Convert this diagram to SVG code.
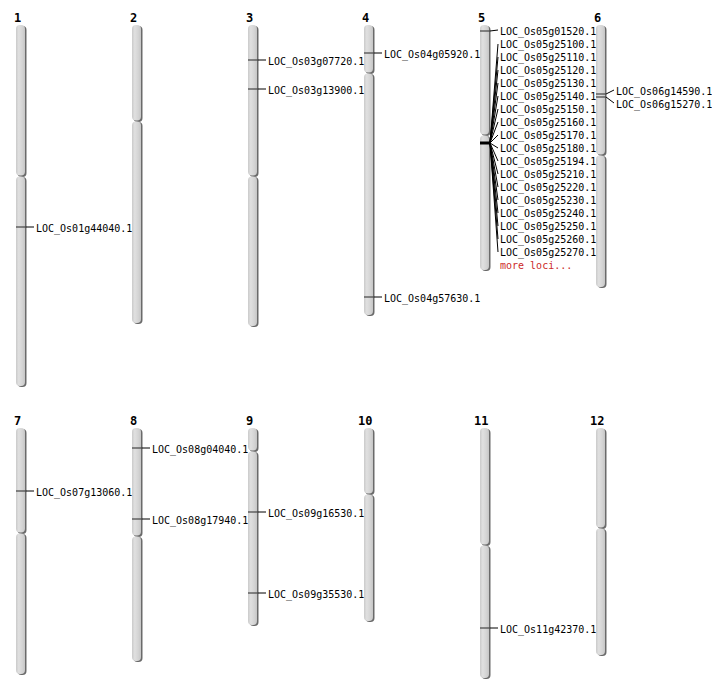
<svg xmlns="http://www.w3.org/2000/svg" width="712" height="700" viewBox="0 0 712 700">
<defs>
<linearGradient id="g" x1="0" y1="0" x2="1" y2="0">
<stop offset="0" stop-color="#cacaca"/>
<stop offset="0.3" stop-color="#e0e0e0"/>
<stop offset="0.7" stop-color="#d4d4d4"/>
<stop offset="1" stop-color="#c6c6c6"/>
</linearGradient>
</defs>
<style>
.sh{fill:#6a6a6a}
.arm{fill:url(#g)}
.num{font-family:"DejaVu Sans Mono",monospace;font-weight:bold;font-size:12px;fill:#000}
.lab{font-family:"DejaVu Sans Mono",monospace;font-size:10px;fill:#000}
.more{font-family:"DejaVu Sans Mono",monospace;font-size:10px;fill:#cc2a2a}
.tick{stroke:#444;stroke-width:1.2}
.con{stroke:#000;stroke-width:1;fill:none}
</style>
<rect width="712" height="700" fill="#fff"/>

<g id="chr1">
<text class="num" x="14" y="22">1</text>
<rect class="sh" x="17.5" y="26" width="9" height="151" rx="4"/>
<rect class="sh" x="17.5" y="177" width="9" height="210" rx="4"/>
<rect class="arm" x="16" y="25" width="9" height="150.5" rx="4"/>
<rect class="arm" x="16" y="176.5" width="9" height="209.5" rx="4"/>
<line class="tick" x1="16" y1="227" x2="26" y2="227"/>
</g>
<g id="chr2">
<text class="num" x="130" y="22">2</text>
<rect class="sh" x="133.5" y="26" width="9" height="96" rx="4"/>
<rect class="sh" x="133.5" y="122" width="9" height="202" rx="4"/>
<rect class="arm" x="132" y="25" width="9" height="95.5" rx="4"/>
<rect class="arm" x="132" y="121.5" width="9" height="201.5" rx="4"/>
</g>
<g id="chr3">
<text class="num" x="246" y="22">3</text>
<rect class="sh" x="249.5" y="26" width="9" height="151" rx="4"/>
<rect class="sh" x="249.5" y="177" width="9" height="150" rx="4"/>
<rect class="arm" x="248" y="25" width="9" height="150.5" rx="4"/>
<rect class="arm" x="248" y="176.5" width="9" height="149.5" rx="4"/>
<line class="tick" x1="248" y1="60" x2="258" y2="60"/>
<line class="tick" x1="248" y1="89" x2="258" y2="89"/>
</g>
<g id="chr4">
<text class="num" x="362" y="22">4</text>
<rect class="sh" x="365.5" y="26" width="9" height="48" rx="4"/>
<rect class="sh" x="365.5" y="74" width="9" height="242" rx="4"/>
<rect class="arm" x="364" y="25" width="9" height="47.5" rx="4"/>
<rect class="arm" x="364" y="73.5" width="9" height="241.5" rx="4"/>
<line class="tick" x1="364" y1="53" x2="374" y2="53"/>
<line class="tick" x1="364" y1="297" x2="374" y2="297"/>
</g>
<g id="chr5">
<text class="num" x="478" y="22">5</text>
<rect class="sh" x="481.5" y="26" width="9" height="110" rx="4"/>
<rect class="sh" x="481.5" y="136" width="9" height="135" rx="4"/>
<rect class="arm" x="480" y="25" width="9" height="109.5" rx="4"/>
<rect class="arm" x="480" y="135.5" width="9" height="134.5" rx="4"/>
<line class="tick" x1="480" y1="31" x2="490" y2="31"/>
<line x1="480" y1="143" x2="491" y2="143" stroke="#000" stroke-width="3"/>
</g>
<g id="chr6">
<text class="num" x="594" y="22">6</text>
<rect class="sh" x="597.5" y="26" width="9" height="130" rx="4"/>
<rect class="sh" x="597.5" y="156" width="9" height="132" rx="4"/>
<rect class="arm" x="596" y="25" width="9" height="129.5" rx="4"/>
<rect class="arm" x="596" y="155.5" width="9" height="131.5" rx="4"/>
<line class="tick" x1="596" y1="94" x2="606" y2="94"/>
<line class="tick" x1="596" y1="97" x2="606" y2="97"/>
</g>
<g id="chr7">
<text class="num" x="14" y="425">7</text>
<rect class="sh" x="17.5" y="429" width="9" height="105" rx="4"/>
<rect class="sh" x="17.5" y="534" width="9" height="141" rx="4"/>
<rect class="arm" x="16" y="428" width="9" height="104.5" rx="4"/>
<rect class="arm" x="16" y="533.5" width="9" height="140.5" rx="4"/>
<line class="tick" x1="16" y1="491" x2="26" y2="491"/>
</g>
<g id="chr8">
<text class="num" x="130" y="425">8</text>
<rect class="sh" x="133.5" y="429" width="9" height="108" rx="4"/>
<rect class="sh" x="133.5" y="537" width="9" height="125" rx="4"/>
<rect class="arm" x="132" y="428" width="9" height="107.5" rx="4"/>
<rect class="arm" x="132" y="536.5" width="9" height="124.5" rx="4"/>
<line class="tick" x1="132" y1="448" x2="142" y2="448"/>
<line class="tick" x1="132" y1="519" x2="142" y2="519"/>
</g>
<g id="chr9">
<text class="num" x="246" y="425">9</text>
<rect class="sh" x="249.5" y="429" width="9" height="23" rx="4"/>
<rect class="sh" x="249.5" y="452" width="9" height="174" rx="4"/>
<rect class="arm" x="248" y="428" width="9" height="22.5" rx="4"/>
<rect class="arm" x="248" y="451.5" width="9" height="173.5" rx="4"/>
<line class="tick" x1="248" y1="512" x2="258" y2="512"/>
<line class="tick" x1="248" y1="593" x2="258" y2="593"/>
</g>
<g id="chr10">
<text class="num" x="358" y="425">10</text>
<rect class="sh" x="365.5" y="429" width="9" height="66" rx="4"/>
<rect class="sh" x="365.5" y="495" width="9" height="127" rx="4"/>
<rect class="arm" x="364" y="428" width="9" height="65.5" rx="4"/>
<rect class="arm" x="364" y="494.5" width="9" height="126.5" rx="4"/>
</g>
<g id="chr11">
<text class="num" x="474" y="425">11</text>
<rect class="sh" x="481.5" y="429" width="9" height="117" rx="4"/>
<rect class="sh" x="481.5" y="546" width="9" height="133" rx="4"/>
<rect class="arm" x="480" y="428" width="9" height="116.5" rx="4"/>
<rect class="arm" x="480" y="545.5" width="9" height="132.5" rx="4"/>
<line class="tick" x1="480" y1="628" x2="490" y2="628"/>
</g>
<g id="chr12">
<text class="num" x="590" y="425">12</text>
<rect class="sh" x="597.5" y="429" width="9" height="100" rx="4"/>
<rect class="sh" x="597.5" y="529" width="9" height="127" rx="4"/>
<rect class="arm" x="596" y="428" width="9" height="99.5" rx="4"/>
<rect class="arm" x="596" y="528.5" width="9" height="126.5" rx="4"/>
</g>

<g id="connectors">
<line class="con" x1="26" y1="227" x2="34" y2="227"/>
<line class="con" x1="258" y1="60" x2="266" y2="60"/>
<line class="con" x1="258" y1="89" x2="266" y2="89"/>
<line class="con" x1="374" y1="53" x2="382" y2="53"/>
<line class="con" x1="374" y1="297" x2="382" y2="297"/>
<line class="con" x1="490" y1="31" x2="498" y2="30"/>
<path class="con" d="M490 143L498 44M490 143L498 57M490 143L498 70M490 143L498 83M490 143L498 96M490 143L498 109M490 143L498 122M490 143L498 135M490 143L498 148M490 143L498 161M490 143L498 174M490 143L498 187M490 143L498 200M490 143L498 213M490 143L498 226M490 143L498 239M490 143L498 252"/>
<line class="con" x1="606" y1="94" x2="614" y2="90"/>
<line class="con" x1="606" y1="97" x2="614" y2="103"/>
<line class="con" x1="26" y1="491" x2="34" y2="491"/>
<line class="con" x1="142" y1="448" x2="150" y2="448"/>
<line class="con" x1="142" y1="519" x2="150" y2="519"/>
<line class="con" x1="258" y1="512" x2="266" y2="512"/>
<line class="con" x1="258" y1="593" x2="266" y2="593"/>
<line class="con" x1="490" y1="628" x2="498" y2="628"/>
</g>

<g id="labels">
<text class="lab" x="36" y="231.5">LOC_Os01g44040.1</text>
<text class="lab" x="268" y="64.5">LOC_Os03g07720.1</text>
<text class="lab" x="268" y="93.5">LOC_Os03g13900.1</text>
<text class="lab" x="384" y="57.5">LOC_Os04g05920.1</text>
<text class="lab" x="384" y="301.5">LOC_Os04g57630.1</text>
<text class="lab" x="500" y="34.5">LOC_Os05g01520.1</text>
<text class="lab" x="500" y="47.5">LOC_Os05g25100.1</text>
<text class="lab" x="500" y="60.5">LOC_Os05g25110.1</text>
<text class="lab" x="500" y="73.5">LOC_Os05g25120.1</text>
<text class="lab" x="500" y="86.5">LOC_Os05g25130.1</text>
<text class="lab" x="500" y="99.5">LOC_Os05g25140.1</text>
<text class="lab" x="500" y="112.5">LOC_Os05g25150.1</text>
<text class="lab" x="500" y="125.5">LOC_Os05g25160.1</text>
<text class="lab" x="500" y="138.5">LOC_Os05g25170.1</text>
<text class="lab" x="500" y="151.5">LOC_Os05g25180.1</text>
<text class="lab" x="500" y="164.5">LOC_Os05g25194.1</text>
<text class="lab" x="500" y="177.5">LOC_Os05g25210.1</text>
<text class="lab" x="500" y="190.5">LOC_Os05g25220.1</text>
<text class="lab" x="500" y="203.5">LOC_Os05g25230.1</text>
<text class="lab" x="500" y="216.5">LOC_Os05g25240.1</text>
<text class="lab" x="500" y="229.5">LOC_Os05g25250.1</text>
<text class="lab" x="500" y="242.5">LOC_Os05g25260.1</text>
<text class="lab" x="500" y="255.5">LOC_Os05g25270.1</text>
<text class="more" x="500" y="268.5">more loci...</text>
<text class="lab" x="616" y="94.5">LOC_Os06g14590.1</text>
<text class="lab" x="616" y="107.5">LOC_Os06g15270.1</text>
<text class="lab" x="36" y="495.5">LOC_Os07g13060.1</text>
<text class="lab" x="152" y="452.5">LOC_Os08g04040.1</text>
<text class="lab" x="152" y="523.5">LOC_Os08g17940.1</text>
<text class="lab" x="268" y="516.5">LOC_Os09g16530.1</text>
<text class="lab" x="268" y="597.5">LOC_Os09g35530.1</text>
<text class="lab" x="500" y="632.5">LOC_Os11g42370.1</text>
</g>
</svg>
